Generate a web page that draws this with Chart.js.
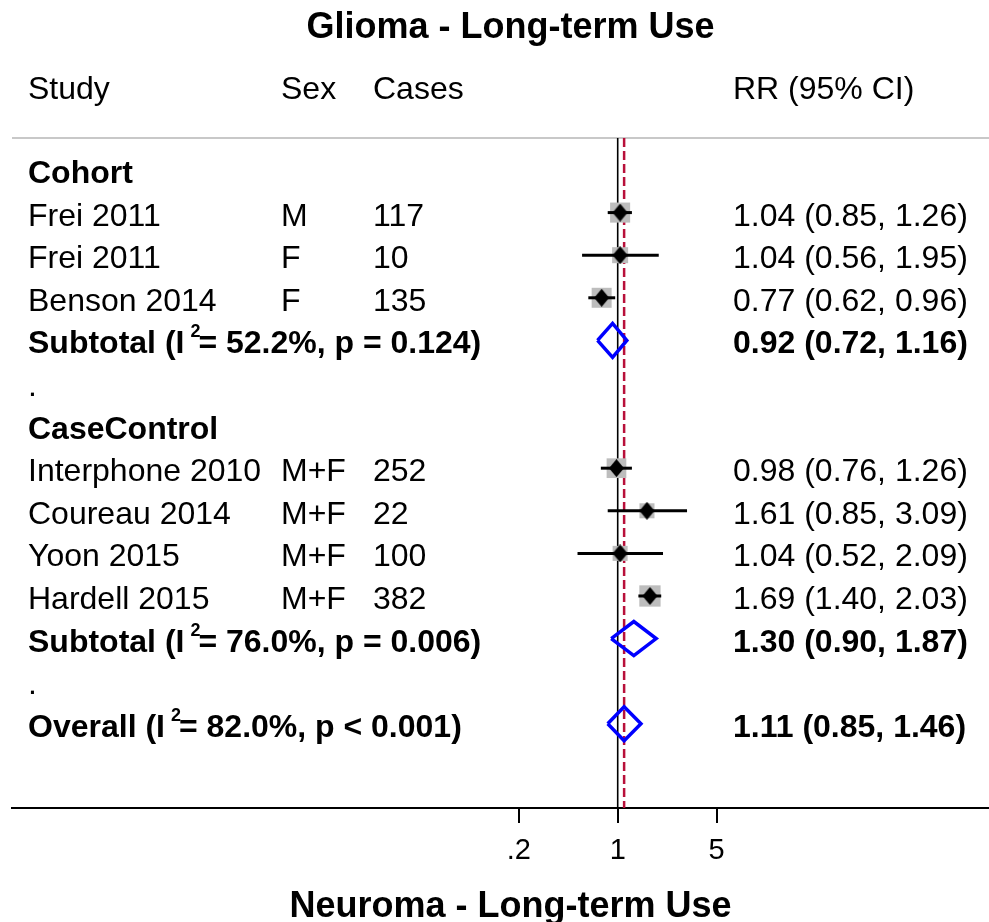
<!DOCTYPE html>
<html>
<head>
<meta charset="utf-8">
<title>Glioma - Long-term Use</title>
<script src="https://cdn.jsdelivr.net/npm/chart.js@4/dist/chart.umd.min.js"></script>
<style>
  html, body { margin: 0; padding: 0; background: #fff; }
  canvas { display: block; }
</style>
</head>
<body>
<canvas id="forest" width="989" height="922"></canvas>
<script>
// per-study rows
const studies = ['Frei 2011', 'Frei 2011', 'Benson 2014', 'Interphone 2010', 'Coureau 2014', 'Yoon 2015', 'Hardell 2015'];
const sexes = ['M', 'F', 'F', 'M+F', 'M+F', 'M+F', 'M+F'];
const cases = [117, 10, 135, 252, 22, 100, 382];
const rr = [1.04, 1.04, 0.77, 0.98, 1.61, 1.04, 1.69];
const rrLow = [0.85, 0.56, 0.62, 0.76, 0.85, 0.52, 1.40];
const rrHigh = [1.26, 1.95, 0.96, 1.26, 3.09, 2.09, 2.03];
const weights = [17.1, 10.9, 17.0, 16.5, 9.6, 9.6, 19.3];
const studyGroup = [0, 0, 0, 1, 1, 1, 1];

// subgroup pooled estimates
const groups = ['Cohort', 'CaseControl'];
const groupRR = [0.92, 1.30];
const groupLow = [0.72, 0.90];
const groupHigh = [1.16, 1.87];
const groupI2 = [52.2, 76.0];
const groupP = ['p = 0.124', 'p = 0.006'];

// overall pooled estimate
const overallRR = 1.11;
const overallLow = 0.85;
const overallHigh = 1.46;
const overallI2 = 82.0;
const overallP = 'p < 0.001';

const tickValues = [0.2, 1, 5];
const tickLabels = ['.2', '1', '5'];

const FAMILY = '"Liberation Sans", Arial, Helvetica, sans-serif';
const REG = '32px ' + FAMILY;
const BOLD = 'bold 32px ' + FAMILY;
const COL_STUDY = 28, COL_SEX = 281, COL_CASES = 373, COL_RR = 733;
const Y_MIN = -0.751, Y_MAX = 14.977;

// lay the rows out: group header, its studies, subtotal, spacer ... overall
const rows = [];
let r = 0;
groups.forEach((g, gi) => {
  rows.push({ kind: 'group', row: r++, gi });
  studies.forEach((s, si) => {
    if (studyGroup[si] === gi) rows.push({ kind: 'study', row: r++, si });
  });
  rows.push({ kind: 'subtotal', row: r++, gi });
  rows.push({ kind: 'gap', row: r++ });
});
rows.push({ kind: 'overall', row: r++ });

const studyRow = [];
const groupRow = [];
let overallRow = 0;
rows.forEach(o => {
  if (o.kind === 'study') studyRow[o.si] = o.row;
  if (o.kind === 'subtotal') groupRow[o.gi] = o.row;
  if (o.kind === 'overall') overallRow = o.row;
});

function fmt(e, l, h) {
  return e.toFixed(2) + ' (' + l.toFixed(2) + ', ' + h.toFixed(2) + ')';
}

function diamondMarker(w, h) {
  const c = document.createElement('canvas');
  c.width = w; c.height = h;
  const g = c.getContext('2d');
  g.fillStyle = '#000';
  g.beginPath();
  g.moveTo(w / 2, 0); g.lineTo(w, h / 2); g.lineTo(w / 2, h); g.lineTo(0, h / 2);
  g.closePath();
  g.fill();
  return c;
}
const pointMarker = diamondMarker(15, 18);

// pooled estimate drawn as a hollow diamond spanning its CI
const DH = 0.4;
function pooledDiamond(est, lo, hi, row) {
  return {
    data: [
      { x: lo, y: row }, { x: est, y: row - DH }, { x: hi, y: row },
      { x: est, y: row + DH }, { x: lo, y: row }
    ],
    showLine: true, borderColor: '#0000ff', borderWidth: 3.5,
    borderJoinStyle: 'miter', pointRadius: 0, order: 0
  };
}

const datasets = [];
// null line and overall-effect line
datasets.push({
  data: [{ x: 1, y: Y_MIN }, { x: 1, y: Y_MAX }],
  showLine: true, borderColor: '#000', borderWidth: 1.6, pointRadius: 0, order: 6
});
datasets.push({
  data: [{ x: overallRR, y: Y_MIN }, { x: overallRR, y: Y_MAX }],
  showLine: true, borderColor: '#b8103a', borderWidth: 2.5, borderDash: [9, 4],
  pointRadius: 0, order: 5
});
// weight boxes
datasets.push({
  data: rr.map((v, i) => ({ x: v, y: studyRow[i] })),
  pointStyle: 'rect', backgroundColor: '#bdbdbd', borderWidth: 0,
  pointRadius: weights.map(w => Math.sqrt(w) * 4.85 / Math.SQRT2), order: 4
});
// confidence intervals
rr.forEach((v, i) => {
  datasets.push({
    data: [{ x: rrLow[i], y: studyRow[i] }, { x: rrHigh[i], y: studyRow[i] }],
    showLine: true, borderColor: '#000', borderWidth: 3, pointRadius: 0, order: 3
  });
});
// point estimates
datasets.push({
  data: rr.map((v, i) => ({ x: v, y: studyRow[i] })),
  pointStyle: pointMarker, pointRadius: 9, order: 2
});
groups.forEach((g, gi) => {
  datasets.push(pooledDiamond(groupRR[gi], groupLow[gi], groupHigh[gi], groupRow[gi]));
});
datasets.push(pooledDiamond(overallRR, overallLow, overallHigh, overallRow));

function hetLabel(ctx, x, y, prefix, i2, p) {
  ctx.font = BOLD;
  const head = prefix + ' (I';
  ctx.fillText(head, x, y);
  const xe = x + ctx.measureText(head).width;
  ctx.font = 'bold 18px ' + FAMILY;
  ctx.fillText('2', xe + 6, y - 16);
  ctx.font = BOLD;
  ctx.fillText('= ' + i2.toFixed(1) + '%, ' + p + ')', xe + 14, y);
}

const tablePlugin = {
  id: 'forestTable',
  beforeDatasetsDraw(chart) {
    const { ctx, chartArea } = chart;
    ctx.save();
    ctx.strokeStyle = '#c8c8c8';
    ctx.lineWidth = 2;
    ctx.beginPath();
    ctx.moveTo(chartArea.left, chartArea.top);
    ctx.lineTo(chartArea.right, chartArea.top);
    ctx.stroke();
    ctx.restore();
  },
  afterDraw(chart) {
    const { ctx } = chart;
    const ys = chart.scales.y;
    const base = row => ys.getPixelForValue(row) + 13;
    ctx.save();
    ctx.fillStyle = '#000';
    ctx.textBaseline = 'alphabetic';
    ctx.textAlign = 'center';
    ctx.font = 'bold 36px ' + FAMILY;
    ctx.fillText('Glioma - Long-term Use', 510.5, 38);
    ctx.fillText('Neuroma - Long-term Use', 510.5, 917);

    ctx.textAlign = 'left';
    ctx.font = REG;
    ctx.fillText('Study', COL_STUDY, 99);
    ctx.fillText('Sex', COL_SEX, 99);
    ctx.fillText('Cases', COL_CASES, 99);
    ctx.fillText('RR (95% CI)', COL_RR, 99);

    rows.forEach(o => {
      const y = base(o.row);
      if (o.kind === 'group') {
        ctx.font = BOLD;
        ctx.fillText(groups[o.gi], COL_STUDY, y);
      } else if (o.kind === 'study') {
        const i = o.si;
        ctx.font = REG;
        ctx.fillText(studies[i], COL_STUDY, y);
        ctx.fillText(sexes[i], COL_SEX, y);
        ctx.fillText(String(cases[i]), COL_CASES, y);
        ctx.fillText(fmt(rr[i], rrLow[i], rrHigh[i]), COL_RR, y);
      } else if (o.kind === 'subtotal') {
        const gi = o.gi;
        hetLabel(ctx, COL_STUDY, y, 'Subtotal', groupI2[gi], groupP[gi]);
        ctx.font = BOLD;
        ctx.fillText(fmt(groupRR[gi], groupLow[gi], groupHigh[gi]), COL_RR, y);
      } else if (o.kind === 'gap') {
        ctx.font = REG;
        ctx.fillText('.', COL_STUDY, y);
      } else if (o.kind === 'overall') {
        hetLabel(ctx, COL_STUDY, y, 'Overall', overallI2, overallP);
        ctx.font = BOLD;
        ctx.fillText(fmt(overallRR, overallLow, overallHigh), COL_RR, y);
      }
    });
    ctx.restore();
  }
};

new Chart(document.getElementById('forest'), {
  type: 'scatter',
  data: { datasets },
  options: {
    responsive: false,
    animation: false,
    events: [],
    layout: { autoPadding: false, padding: { top: 138, left: 12, right: 0, bottom: 0 } },
    plugins: { legend: { display: false }, tooltip: { enabled: false } },
    scales: {
      x: {
        type: 'logarithmic',
        min: 5.241e-5,
        max: 420.7,
        bounds: 'data',
        afterBuildTicks: s => { s.ticks = tickValues.map(v => ({ value: v })); },
        afterFit: s => { s.height = 114; s.paddingLeft = 0; s.paddingRight = 0; },
        ticks: {
          autoSkip: false, maxRotation: 0, padding: 11, color: '#000',
          font: { size: 29, family: FAMILY },
          callback: (v, i) => tickLabels[i]
        },
        grid: {
          drawOnChartArea: false, drawTicks: true, tickLength: 15,
          tickColor: '#000', tickWidth: 2, lineWidth: 2, color: '#000'
        },
        border: { display: true, color: '#000', width: 2 }
      },
      y: {
        type: 'linear', display: false, reverse: true,
        min: Y_MIN, max: Y_MAX, bounds: 'data'
      }
    }
  },
  plugins: [tablePlugin]
});
</script>
</body>
</html>
